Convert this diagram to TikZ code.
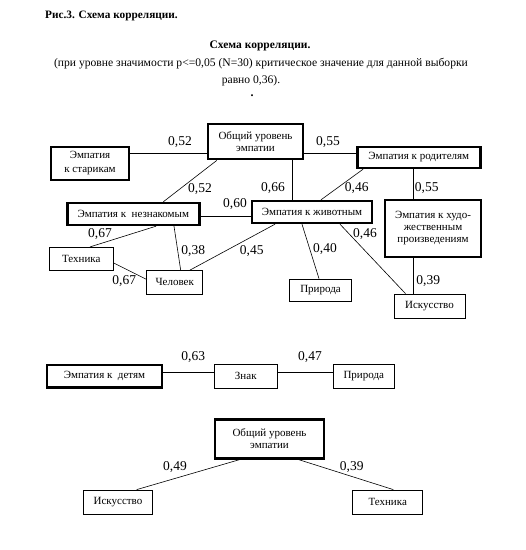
\documentclass[tikz,border=0pt]{standalone}
\usepackage{fontspec}
\setmainfont{Liberation Serif}
\usetikzlibrary{calc}
\begin{document}
\begin{tikzpicture}[x=1pt,y=-1pt,
  box/.style={draw,line width=0.8pt,inner sep=0pt,align=center,font=\fontsize{11}{12}\selectfont},
  thick box/.style={box,line width=2.4pt},
  lbl/.style={inner sep=0pt,font=\fontsize{13.5}{15}\selectfont},
  conn/.style={line width=0.6pt}]
\useasboundingbox (0,0) rectangle (526,550);
% header
\node[inner sep=0pt,anchor=west,font=\fontsize{11.3}{13}\selectfont\bfseries] (fig) at (45,16) {Рис.3. Схема корреляции.};
\node[inner sep=0pt,font=\fontsize{11.5}{13}\selectfont\bfseries] (title) at (260,46) {Схема корреляции.};
\node[inner sep=0pt,font=\fontsize{11.6}{13}\selectfont] (sub1) at (261,64) {(при уровне значимости p<=0,05 (N=30) критическое значение для данной выборки};
\node[inner sep=0pt,font=\fontsize{11.6}{13}\selectfont] (sub2) at (251,81) {равно 0,36).};
\node[inner sep=0pt,font=\fontsize{12}{13}\selectfont\bfseries] (dot) at (252,96) {.};
% upper graph
\node[thick box,minimum width=78pt,minimum height=33pt,font=\fontsize{11}{14}\selectfont] (starik) at (90,163.5) {Эмпатия\\к старикам};
\node[thick box,minimum width=95pt,minimum height=35pt] (obsh1) at (255.5,141.7) {Общий уровень\\эмпатии};
\node[thick box,minimum width=132pt,minimum height=22pt] (neznak) at (133.3,214) {Эмпатия к~~незнакомым};
\node[thick box,minimum width=120pt,minimum height=22pt] (zhiv) at (312,212) {Эмпатия к животным};
\node[thick box,minimum width=123pt,minimum height=21pt] (rodit) at (418.8,157.5) {Эмпатия к родителям};
\node[thick box,minimum width=96pt,minimum height=57pt] (hudo) at (433,228.5) {Эмпатия к худо-\\жественным\\произведениям};
\node[box,minimum width=71pt,minimum height=24pt] (iskus1) at (429.5,306) {Искусство};
\node[box,minimum width=62pt,minimum height=22.5pt] (prir1) at (320.5,290.3) {Природа};
\node[box,minimum width=64pt,minimum height=23.4pt] (tehn1) at (81.3,259) {Техника};
\node[box,minimum width=56pt,minimum height=23.3pt] (chel) at (174.7,282.3) {Человек};
% middle row
\node[thick box,minimum width=115pt,minimum height=22.5pt] (deti) at (104.5,376.3) {Эмпатия к~~детям};
\node[box,minimum width=63pt,minimum height=24.5pt] (znak) at (245.8,376.3) {Знак};
\node[box,minimum width=61pt,minimum height=24.5pt] (prir2) at (363.8,376.3) {Природа};
% lower graph
\node[thick box,minimum width=109pt,minimum height=39pt] (obsh2) at (269.5,438.8) {Общий уровень\\эмпатии};
\node[box,minimum width=69.4pt,minimum height=24pt] (iskus2) at (118,502) {Искусство};
\node[box,minimum width=70pt,minimum height=24pt] (tehn2) at (387.7,502) {Техника};
% connectors
\draw[conn] ([yshift=10pt]starik.east) -- ([yshift=10pt]starik.east -| obsh1.west);
\draw[conn] ([yshift=4pt]rodit.west -| obsh1.east) -- ([yshift=4pt]rodit.west);
\draw[conn] ([xshift=37pt]obsh1.south) -- ([xshift=37pt]obsh1.south |- zhiv.north);
\draw[conn] ([xshift=10pt]obsh1.south west) -- ([xshift=30pt]neznak.north);
\draw[conn] ([yshift=-2pt]neznak.east) -- ([yshift=-2pt]neznak.east -| zhiv.west);
\draw[conn] ([xshift=7pt]rodit.south west) -- ([xshift=9pt]zhiv.north);
\draw[conn] ([xshift=-6pt]rodit.south) -- ([xshift=-6pt]rodit.south |- hudo.north);
\draw[conn] ([xshift=-20pt]hudo.south) -- ([xshift=-20pt]hudo.south |- iskus1.north);
\draw[conn] ([xshift=28pt]zhiv.south) -- ([xshift=-24pt]iskus1.north);
\draw[conn] ([xshift=-10pt]zhiv.south) -- ([xshift=-1.5pt]prir1.north);
\draw[conn] ([xshift=-37pt]zhiv.south) -- ([xshift=15pt]chel.north);
\draw[conn] ([xshift=22.7pt]neznak.south) -- ([xshift=8.7pt]tehn1.north);
\draw[conn] ([xshift=40.7pt]neznak.south) -- ([xshift=6pt]chel.north);
\draw[conn] ([yshift=-4pt]tehn1.east) -- ([yshift=3pt]chel.west);
\draw[conn] ([yshift=4pt]deti.east) -- ([yshift=4pt]deti.east -| znak.west);
\draw[conn] ([yshift=4pt]znak.east) -- ([yshift=4pt]znak.east -| prir2.west);
\draw[conn] ([xshift=-29.5pt]obsh2.south) -- ([xshift=18.7pt]iskus2.north);
\draw[conn] ([xshift=28.8pt]obsh2.south) -- ([xshift=5.6pt]tehn2.north);
% labels
\node[lbl] (l1) at (180,142) {0,52};
\node[lbl] (l2) at (200,189) {0,52};
\node[lbl] (l3) at (235,204) {0,60};
\node[lbl] (l4) at (273,188) {0,66};
\node[lbl] (l5) at (328,142) {0,55};
\node[lbl] (l6) at (356.7,188) {0,46};
\node[lbl] (l7) at (426.7,188) {0,55};
\node[lbl] (l8) at (428.3,281) {0,39};
\node[lbl] (l9) at (365,234) {0,46};
\node[lbl] (l10) at (325,249.3) {0,40};
\node[lbl] (l11) at (100,234.3) {0,67};
\node[lbl] (l12) at (124.3,280.7) {0,67};
\node[lbl] (l13) at (193.3,250.7) {0,38};
\node[lbl] (l14) at (251.7,250.7) {0,45};
\node[lbl] (l15) at (193.3,357.3) {0,63};
\node[lbl] (l16) at (310,357.3) {0,47};
\node[lbl] (l17) at (175,466.7) {0,49};
\node[lbl] (l18) at (351.7,467.3) {0,39};
\end{tikzpicture}
\end{document}
